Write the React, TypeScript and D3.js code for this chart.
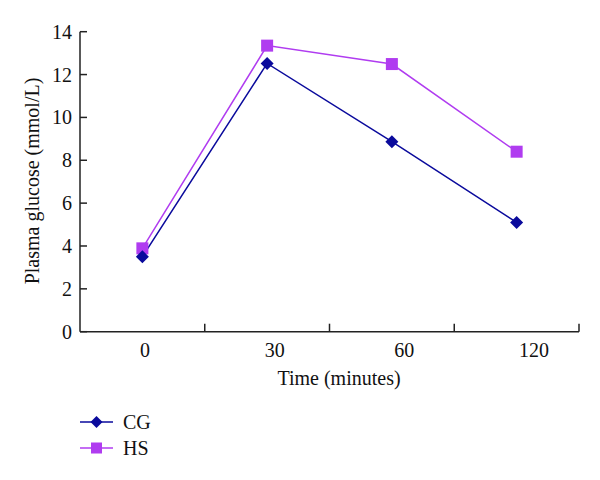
import React from "react";
import * as d3 from "d3";

const categories = ["0", "30", "60", "120"];
const cgValues = [3.5, 12.52, 8.87, 5.1];
const hsValues = [3.89, 13.35, 12.49, 8.4];
const yTicks = [0, 2, 4, 6, 8, 10, 12, 14];
const seriesNames = ["CG", "HS"];

const W = 600;
const H = 480;
const FONT = "'Liberation Serif', 'Times New Roman', serif";
const FS = 20;
const CG_COLOR = "#0a0a9c";
const HS_COLOR = "#b03cf0";

export default function App() {
  const x = d3.scaleBand<string>().domain(categories).range([80, 579]);
  const xLabel = d3.scalePoint<string>().domain(categories).range([145, 534]);
  const y = d3.scaleLinear().domain([0, 14]).range([331.7, 31.7]);

  const line = d3
    .line<number>()
    .x((_, i) => (x(categories[i]) as number) + x.bandwidth() / 2)
    .y((d) => y(d));

  const diamond = (cx: number, cy: number, r: number) =>
    `M${cx},${cy - r}L${cx + r},${cy}L${cx},${cy + r}L${cx - r},${cy}Z`;

  const boundaries = categories.map((c) => (x(c) as number) + x.bandwidth());

  return (
    <svg width={W} height={H} style={{ display: "block", position: "absolute", left: 0, top: 0 }}>
      <rect width={W} height={H} fill="#fff" />
      {/* y axis */}
      <line x1={80} x2={80} y1={y(14)} y2={y(0)} stroke="#222" strokeWidth={1.5} />
      {yTicks.map((t) => (
        <g key={t}>
          <line x1={80} x2={87} y1={y(t)} y2={y(t)} stroke="#222" strokeWidth={1.5} />
          <text
            x={72}
            y={y(t)}
            textAnchor="end"
            dominantBaseline="central"
            fontFamily={FONT}
            fontSize={FS}
            fill="#111"
          >
            {t}
          </text>
        </g>
      ))}
      {/* x axis */}
      <line x1={80} x2={579} y1={y(0)} y2={y(0)} stroke="#222" strokeWidth={1.5} />
      {boundaries.map((b, i) => (
        <line key={i} x1={b} x2={b} y1={y(0)} y2={y(0) - 8} stroke="#222" strokeWidth={1.5} />
      ))}
      {categories.map((c) => (
        <text
          key={c}
          x={xLabel(c)}
          y={357}
          textAnchor="middle"
          fontFamily={FONT}
          fontSize={FS}
          fill="#111"
        >
          {c}
        </text>
      ))}
      <text x={339} y={385} textAnchor="middle" fontFamily={FONT} fontSize={FS} fill="#111">
        Time (minutes)
      </text>
      <text
        transform={`translate(39,181) rotate(-90)`}
        textAnchor="middle"
        fontFamily={FONT}
        fontSize={FS}
        fill="#111"
      >
        Plasma glucose (mmol/L)
      </text>

      {/* series */}
      <path d={line(hsValues) || ""} fill="none" stroke={HS_COLOR} strokeWidth={1.5} />
      <path d={line(cgValues) || ""} fill="none" stroke={CG_COLOR} strokeWidth={1.5} />
      {hsValues.map((v, i) => {
        const cx = (x(categories[i]) as number) + x.bandwidth() / 2;
        return <rect key={i} x={cx - 6} y={y(v) - 6} width={12} height={12} fill={HS_COLOR} />;
      })}
      {cgValues.map((v, i) => {
        const cx = (x(categories[i]) as number) + x.bandwidth() / 2;
        return <path key={i} d={diamond(cx, y(v), 6.5)} fill={CG_COLOR} />;
      })}

      {/* legend */}
      {seriesNames.map((name, i) => {
        const ly = 422 + i * 26;
        const color = i === 0 ? CG_COLOR : HS_COLOR;
        return (
          <g key={name}>
            <line x1={80} x2={113} y1={ly} y2={ly} stroke={color} strokeWidth={1.5} />
            {i === 0 ? (
              <path d={diamond(96.5, ly, 6)} fill={color} />
            ) : (
              <rect x={91} y={ly - 5.5} width={11} height={11} fill={color} />
            )}
            <text x={123} y={ly} dominantBaseline="central" fontFamily={FONT} fontSize={FS} fill="#111">
              {name}
            </text>
          </g>
        );
      })}
    </svg>
  );
}
